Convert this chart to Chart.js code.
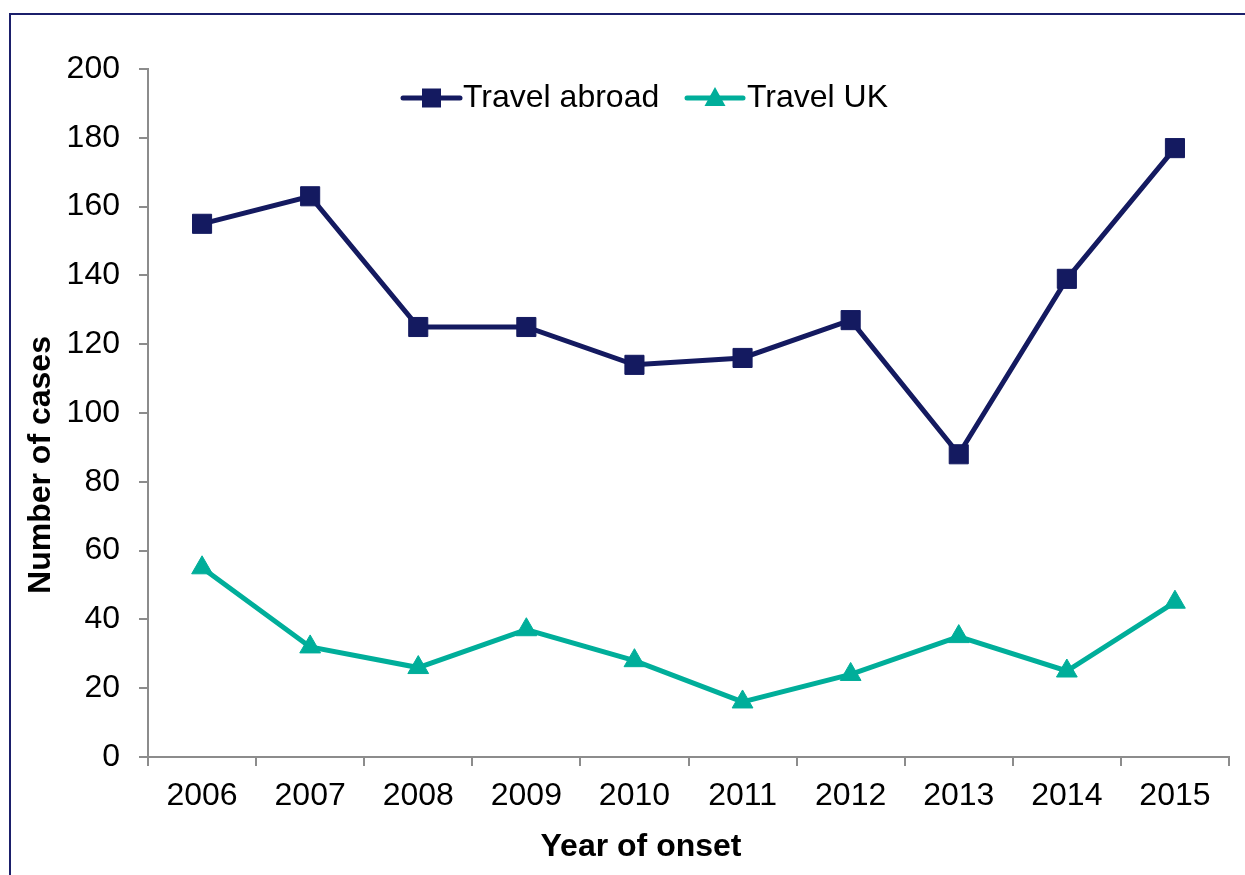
<!DOCTYPE html>
<html>
<head>
<meta charset="utf-8">
<script src="https://cdn.jsdelivr.net/npm/chart.js@4/dist/chart.umd.min.js"></script>
<style>
  html, body { margin: 0; padding: 0; background: #fff; overflow: hidden; }
  #wrap { position: relative; width: 1245px; height: 875px; overflow: hidden; }
  #frame { position: absolute; left: 9px; top: 13px; width: 1300px; height: 900px;
           border-left: 2px solid #1b1f6b; border-top: 2px solid #1b1f6b; box-sizing: border-box; }
  canvas { position: absolute; left: 0; top: 0; }
</style>
</head>
<body>
<div id="wrap">
  <div id="frame"></div>
  <canvas id="c" width="1245" height="875"></canvas>
</div>
<script>
const years = ['2006','2007','2008','2009','2010','2011','2012','2013','2014','2015'];
const travelAbroad = [155, 163, 125, 125, 114, 116, 127, 88, 139, 177];
const travelUK = [55, 32, 26, 37, 28, 16, 24, 35, 25, 45];
const yTickLabels = ['0','20','40','60','80','100','120','140','160','180','200'];
const xTitle = 'Year of onset';
const yTitle = 'Number of cases';

const NAVY = '#141a60';
const TEAL = '#00ae9a';
const AXIS = '#8c8c8c';
const FONT = '"Liberation Sans", Arial, sans-serif';

const titlesAndLegend = {
  id: 'titlesAndLegend',
  afterDraw(chart) {
    const ctx = chart.ctx;
    ctx.save();
    ctx.fillStyle = '#000';
    ctx.font = 'bold 32px ' + FONT;
    ctx.textAlign = 'center';
    ctx.textBaseline = 'middle';
    ctx.fillText(xTitle, 641, 847);
    ctx.save();
    ctx.translate(41, 465);
    ctx.rotate(-Math.PI / 2);
    ctx.fillText(yTitle, 0, 0);
    ctx.restore();

    // legend
    const items = [
      { ds: chart.data.datasets[0], x0: 403, x1: 460, tx: 463 },
      { ds: chart.data.datasets[1], x0: 687, x1: 743, tx: 747 }
    ];
    const ly = 98;
    items.forEach(it => {
      ctx.strokeStyle = it.ds.borderColor;
      ctx.lineWidth = 5;
      ctx.lineCap = 'round';
      ctx.beginPath();
      ctx.moveTo(it.x0, ly);
      ctx.lineTo(it.x1, ly);
      ctx.stroke();
      const cx = (it.x0 + it.x1) / 2;
      ctx.fillStyle = it.ds.backgroundColor;
      if (it.ds.pointStyle === 'rect') {
        ctx.fillRect(cx - 9.5, ly - 9.5, 19, 19);
      } else {
        ctx.beginPath();
        ctx.moveTo(cx, ly - 11);
        ctx.lineTo(cx + 10.5, ly + 8);
        ctx.lineTo(cx - 10.5, ly + 8);
        ctx.closePath();
        ctx.fill();
      }
      ctx.fillStyle = '#000';
      ctx.font = '32px ' + FONT;
      ctx.textAlign = 'left';
      ctx.textBaseline = 'middle';
      ctx.fillText(it.ds.label, it.tx, ly);
    });
    ctx.restore();
  }
};

new Chart(document.getElementById('c'), {
  type: 'line',
  data: {
    labels: years,
    datasets: [
      {
        label: 'Travel abroad',
        data: travelAbroad,
        borderColor: NAVY,
        backgroundColor: NAVY,
        borderWidth: 5,
        pointStyle: 'rect',
        pointRadius: 13.5,
        pointBorderWidth: 1,
        pointBackgroundColor: NAVY,
        pointBorderColor: NAVY,
        tension: 0
      },
      {
        label: 'Travel UK',
        data: travelUK,
        borderColor: TEAL,
        backgroundColor: TEAL,
        borderWidth: 5,
        pointStyle: 'triangle',
        pointRadius: 12,
        pointBorderWidth: 1,
        pointBackgroundColor: TEAL,
        pointBorderColor: TEAL,
        tension: 0
      }
    ]
  },
  options: {
    responsive: false,
    animation: false,
    layout: { padding: { left: 0, right: 16, top: 69, bottom: 0 } },
    plugins: { legend: { display: false }, tooltip: { enabled: false } },
    scales: {
      x: {
        type: 'category',
        offset: true,
        grid: { offset: true, drawOnChartArea: false, drawTicks: true, tickLength: 9, color: AXIS, lineWidth: 2 },
        border: { color: AXIS, width: 2 },
        ticks: { color: '#000', font: { family: FONT, size: 32 }, padding: 11, maxRotation: 0, autoSkip: false },
        afterFit(scale) { scale.height = 118; }
      },
      y: {
        min: 0, max: 200,
        grid: { drawOnChartArea: false, drawTicks: true, tickLength: 9, color: AXIS, lineWidth: 2 },
        border: { color: AXIS, width: 2 },
        ticks: {
          stepSize: 10,
          color: '#000',
          font: { family: FONT, size: 32 },
          padding: 19,
          callback(v) { const s = String(v); return yTickLabels.includes(s) ? s : ''; }
        },
        afterFit(scale) { scale.width = 148; }
      }
    }
  },
  plugins: [titlesAndLegend]
});
</script>
</body>
</html>
